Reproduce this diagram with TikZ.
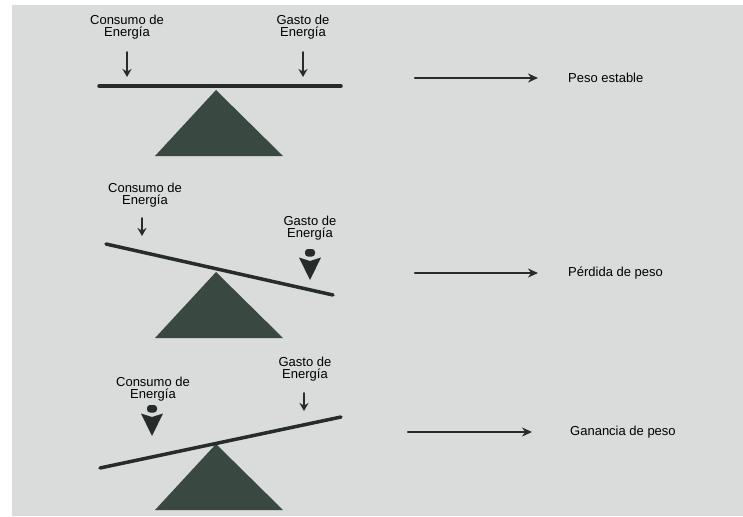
\documentclass[tikz,border=0pt]{standalone}
\usepackage{fontspec}
\setmainfont{Liberation Sans}
\usetikzlibrary{arrows.meta}
\definecolor{fondo}{RGB}{217,220,218}
\definecolor{base}{RGB}{58,72,66}
\definecolor{barra}{RGB}{38,44,41}
\begin{document}
\begin{tikzpicture}[x=1pt, y=-1pt, line join=round, line cap=round,
	texto/.style={font=\fontsize{13}{12.5}\selectfont, align=center, inner sep=0pt},
	flechita/.style={-{Stealth[length=8pt,width=9pt]}, line width=1.8pt, barra},
	flechader/.style={-{Stealth[length=10pt,width=9pt]}, line width=2.4pt, barra}]
	\def\flecha#1#2{% flecha gruesa: x, y superior
		\fill[barra, rounded corners=3pt] (#1-5,#2) rectangle (#1+5,#2+7.5);
		\fill[barra] (#1-11,#2+8.5) -- (#1,#2+12) -- (#1+11,#2+8.5) -- (#1,#2+31) -- cycle;}
	\def\triangulo#1{\fill[base] (216,#1) -- (283,#1+66) -- (155,#1+66) -- cycle;}
	\useasboundingbox (0,0) rectangle (743,516);
	\fill[white] (0,0) rectangle (743,516);
	\fill[fondo] (12,5) rectangle (743,516);
	% peso estable
	\node[texto] (c1) at (127,27) {Consumo de\\Energía};
	\node[texto] (g1) at (303,27) {Gasto de\\Energía};
	\triangulo{90}
	\draw[barra, line width=3.5pt] (99,86) -- (341,86);
	\draw[flechita] (127,52) -- (127,77);
	\draw[flechita] (303,52) -- (303,77);
	\coordinate (a1) at (415,78);
	\node[texto, anchor=west] (r1) at (568,78) {Peso estable};
	\draw[flechader] (a1) -- ([xshift=-30pt]r1.west);
	% perdida de peso
	\node[texto] (c2) at (145,195) {Consumo de\\Energía};
	\node[texto] (g2) at (310,228) {Gasto de\\Energía};
	\triangulo{272}
	\draw[barra, line width=3.5pt] (106,244) -- (333,295);
	\draw[flechita] (142,218) -- (142,236);
	\flecha{310}{249}
	\coordinate (a2) at (415,273);
	\node[texto, anchor=west] (r2) at (568,273) {Pérdida de peso};
	\draw[flechader] (a2) -- ([xshift=-30pt]r2.west);
	% ganancia de peso
	\node[texto] (c3) at (153,389) {Consumo de\\Energía};
	\node[texto] (g3) at (305,369) {Gasto de\\Energía};
	\triangulo{444}
	\draw[barra, line width=3.5pt] (100,468) -- (341,417);
	\flecha{152}{405}
	\draw[flechita] (304,393) -- (304,411);
	\coordinate (a3) at (408,432);
	\node[texto, anchor=west] (r3) at (570,432) {Ganancia de peso};
	\draw[flechader] (a3) -- ([xshift=-38pt]r3.west);
\end{tikzpicture}
\end{document}
